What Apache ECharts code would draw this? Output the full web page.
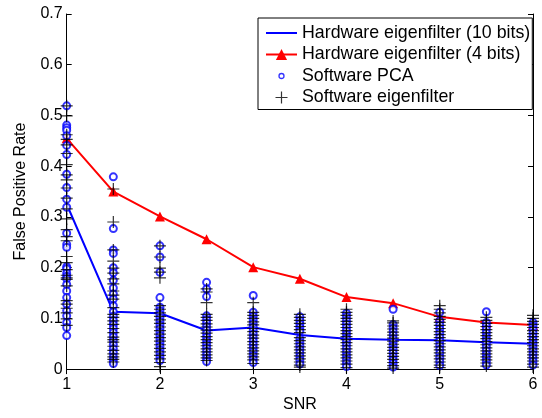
<!DOCTYPE html>
<html>
<head>
<meta charset="utf-8">
<script src="https://cdn.jsdelivr.net/npm/echarts@6/dist/echarts.min.js"></script>
<style>html,body{margin:0;padding:0;background:#fff;}#c{width:542px;height:418px;}</style>
</head>
<body>
<div id="c"></div>
<script>
// SNR values (x axis)
var snr = [1, 1.5, 2, 2.5, 3, 3.5, 4, 4.5, 5, 5.5, 6];
// Hardware eigenfilter curves
var hw10 = [0.325, 0.113, 0.110, 0.076, 0.082, 0.067, 0.060, 0.058, 0.057, 0.053, 0.050];
var hw4  = [0.455, 0.350, 0.301, 0.256, 0.201, 0.178, 0.142, 0.130, 0.103, 0.092, 0.087];
// Software PCA false positive rates per SNR (one list per SNR value)
var pcaCols = [
  [0.519, 0.481, 0.476, 0.471, 0.460, 0.441, 0.423, 0.384, 0.358, 0.335, 0.319, 0.268, 0.246, 0.240, 0.202, 0.198, 0.189, 0.183, 0.178, 0.167, 0.154, 0.141, 0.128, 0.115, 0.105, 0.092, 0.082, 0.066],
  [0.379, 0.277, 0.235, 0.228, 0.200, 0.190, 0.175, 0.160, 0.148, 0.138, 0.125, 0.113, 0.104, 0.096, 0.088, 0.080, 0.072, 0.064, 0.056, 0.048, 0.040, 0.032, 0.024, 0.017, 0.011],
  [0.243, 0.221, 0.191, 0.141, 0.122, 0.115, 0.108, 0.101, 0.094, 0.087, 0.080, 0.073, 0.066, 0.059, 0.052, 0.045, 0.038, 0.031, 0.024, 0.017],
  [0.171, 0.158, 0.143, 0.105, 0.098, 0.091, 0.084, 0.077, 0.070, 0.063, 0.056, 0.049, 0.042, 0.035, 0.028, 0.021, 0.015],
  [0.145, 0.112, 0.104, 0.097, 0.090, 0.083, 0.076, 0.069, 0.062, 0.055, 0.048, 0.041, 0.034, 0.027, 0.020, 0.013],
  [0.103, 0.096, 0.089, 0.082, 0.075, 0.060, 0.053, 0.046, 0.039, 0.032, 0.025, 0.018, 0.010],
  [0.110, 0.103, 0.096, 0.089, 0.082, 0.075, 0.068, 0.061, 0.054, 0.047, 0.040, 0.033, 0.026, 0.019, 0.012, 0.005],
  [0.118, 0.088, 0.081, 0.074, 0.067, 0.060, 0.053, 0.046, 0.039, 0.032, 0.025, 0.018, 0.011, 0.004],
  [0.112, 0.095, 0.087, 0.079, 0.071, 0.063, 0.055, 0.047, 0.039, 0.031, 0.023, 0.015, 0.007],
  [0.113, 0.092, 0.085, 0.078, 0.071, 0.064, 0.057, 0.050, 0.043, 0.036, 0.029, 0.022, 0.015, 0.008],
  [0.092, 0.085, 0.078, 0.071, 0.064, 0.057, 0.050, 0.043, 0.036, 0.029, 0.022, 0.015, 0.008]
];
// Software eigenfilter false positive rates per SNR
var eigCols = [
  [0.519, 0.499, 0.462, 0.453, 0.442, 0.425, 0.403, 0.383, 0.373, 0.357, 0.337, 0.316, 0.296, 0.275, 0.261, 0.253, 0.222, 0.210, 0.196, 0.185, 0.180, 0.177, 0.164, 0.135, 0.128, 0.120, 0.111, 0.099, 0.086],
  [0.355, 0.290, 0.235, 0.213, 0.199, 0.189, 0.178, 0.168, 0.154, 0.146, 0.138, 0.121, 0.108, 0.102, 0.095, 0.088, 0.080, 0.072, 0.063, 0.058, 0.053, 0.045, 0.037, 0.030, 0.024, 0.019, 0.014],
  [0.243, 0.221, 0.199, 0.191, 0.180, 0.125, 0.118, 0.111, 0.104, 0.097, 0.090, 0.083, 0.076, 0.069, 0.062, 0.055, 0.048, 0.041, 0.034, 0.027, 0.020, 0.013, 0.005],
  [0.158, 0.152, 0.131, 0.108, 0.102, 0.096, 0.089, 0.083, 0.077, 0.071, 0.064, 0.058, 0.052, 0.046, 0.040, 0.034, 0.028, 0.022, 0.017],
  [0.131, 0.112, 0.106, 0.100, 0.093, 0.087, 0.080, 0.074, 0.067, 0.061, 0.054, 0.048, 0.042, 0.036, 0.030, 0.024, 0.018, 0.011],
  [0.108, 0.102, 0.096, 0.090, 0.084, 0.078, 0.072, 0.062, 0.056, 0.050, 0.044, 0.038, 0.032, 0.026, 0.020, 0.014, 0.008, 0.004],
  [0.118, 0.112, 0.106, 0.100, 0.094, 0.088, 0.082, 0.076, 0.070, 0.064, 0.058, 0.052, 0.046, 0.040, 0.034, 0.028, 0.022, 0.016, 0.010, 0.003],
  [0.095, 0.091, 0.085, 0.079, 0.073, 0.067, 0.061, 0.055, 0.049, 0.043, 0.037, 0.031, 0.025, 0.019, 0.013, 0.007, 0.002],
  [0.125, 0.118, 0.111, 0.104, 0.098, 0.092, 0.086, 0.080, 0.074, 0.068, 0.062, 0.056, 0.050, 0.044, 0.038, 0.032, 0.026, 0.020, 0.014, 0.008, 0.003],
  [0.102, 0.096, 0.090, 0.084, 0.078, 0.072, 0.066, 0.060, 0.054, 0.048, 0.042, 0.036, 0.030, 0.024, 0.018, 0.012, 0.006],
  [0.106, 0.100, 0.094, 0.088, 0.082, 0.076, 0.070, 0.064, 0.058, 0.052, 0.046, 0.040, 0.034, 0.028, 0.022, 0.016, 0.010, 0.004]
];
var yTicks = ['0', '0.1', '0.2', '0.3', '0.4', '0.5', '0.6', '0.7'];
var names = ['Hardware eigenfilter (10 bits)', 'Hardware eigenfilter (4 bits)', 'Software PCA', 'Software eigenfilter'];

function pairs(xs, ys) { return xs.map(function (x, i) { return [x, ys[i]]; }); }
function flatten(cols) {
  var out = [];
  cols.forEach(function (col, i) { col.forEach(function (v) { out.push([snr[i], v]); }); });
  return out;
}

var FONT = 'Liberation Sans, Arial, sans-serif';
var plusPath = 'path://M5.4,0h1.2v5.4h5.4v1.2h-5.4v5.4h-1.2v-5.4h-5.4v-1.2h5.4z';
var smallCircle = 'path://M0,0M14,14M4.5,7A2.5,2.5 0 1 1 9.5,7A2.5,2.5 0 1 1 4.5,7Z';
var plusLegend = 'path://M0,0M14,14M6.4,1h1.2v5.4h5.4v1.2h-5.4v5.4h-1.2v-5.4h-5.4v-1.2h5.4z';
var lineLegend = 'path://M0,0M31,14M0,6h31v2h-31z';

var axisLineStyle = { color: '#000', width: 1 };
var chart = echarts.init(document.getElementById('c'), null, { renderer: 'canvas' });
chart.setOption({
  animation: false,
  backgroundColor: '#fff',
  textStyle: { fontFamily: FONT },
  grid: { left: 66.7, right: 9, top: 14, bottom: 44.7, containLabel: false },
  xAxis: [{
    type: 'value', min: 1, max: 6, interval: 1,
    name: 'SNR', nameLocation: 'middle', nameGap: 25,
    nameTextStyle: { fontSize: 16, color: '#000', fontFamily: FONT },
    axisLine: { lineStyle: axisLineStyle },
    axisTick: { inside: true, length: 5, lineStyle: axisLineStyle },
    axisLabel: { fontSize: 16, color: '#000', margin: 7, fontFamily: FONT },
    splitLine: { show: false }
  }, {
    type: 'value', min: 1, max: 6, interval: 1, position: 'top',
    axisLine: { lineStyle: axisLineStyle },
    axisTick: { inside: true, length: 5, lineStyle: axisLineStyle },
    axisLabel: { show: false }, splitLine: { show: false }
  }],
  yAxis: [{
    type: 'value', min: 0, max: 0.7, interval: 0.1,
    name: 'False Positive Rate', nameLocation: 'middle', nameGap: 38,
    nameTextStyle: { fontSize: 16, color: '#000', fontFamily: FONT },
    axisLine: { show: true, lineStyle: axisLineStyle },
    axisTick: { show: true, inside: true, length: 5, lineStyle: axisLineStyle },
    axisLabel: { fontSize: 16, color: '#000', margin: 4, fontFamily: FONT,
      formatter: function (v) { return yTicks[Math.round(v * 10)]; } },
    splitLine: { show: false }
  }, {
    type: 'value', min: 0, max: 0.7, interval: 0.1, position: 'right',
    axisLine: { show: true, lineStyle: axisLineStyle },
    axisTick: { show: true, inside: true, length: 5, lineStyle: axisLineStyle },
    axisLabel: { show: false }, splitLine: { show: false }
  }],
  legend: {
    orient: 'vertical', left: 258, top: 18,
    padding: [6, 2, 3, 7], itemGap: 3.5, itemWidth: 31, itemHeight: 14,
    backgroundColor: '#fff', borderColor: '#000', borderWidth: 1,
    textStyle: { fontSize: 17.8, color: '#000', fontFamily: FONT },
    data: [
      { name: names[0], icon: lineLegend, itemStyle: { color: '#0000ff', borderWidth: 0 } },
      { name: names[1] },
      { name: names[2], icon: smallCircle, itemStyle: { color: 'rgba(0,0,0,0)', borderColor: '#0000ff', borderWidth: 1.3 } },
      { name: names[3], icon: plusLegend, itemStyle: { color: '#000', borderWidth: 0 } }
    ]
  },
  series: [{
    name: names[0], type: 'line', data: pairs(snr, hw10),
    symbol: 'none', lineStyle: { color: '#0000ff', width: 2 }, itemStyle: { color: '#0000ff' }, z: 2
  }, {
    name: names[1], type: 'line', data: pairs(snr, hw4),
    symbol: 'triangle', symbolSize: 10, lineStyle: { color: '#ff0000', width: 2 },
    itemStyle: { color: '#ff0000' }, z: 2
  }, {
    name: names[2], type: 'scatter', data: flatten(pcaCols),
    symbol: 'emptyCircle', symbolSize: 7, clip: false,
    itemStyle: { color: '#0000ff', borderColor: '#0000ff', borderWidth: 1.3 }, z: 3
  }, {
    name: names[3], type: 'scatter', data: flatten(eigCols),
    symbol: plusPath, symbolSize: 12, clip: false,
    itemStyle: { color: '#000', borderWidth: 0 }, z: 4
  }]
});
</script>
</body>
</html>
